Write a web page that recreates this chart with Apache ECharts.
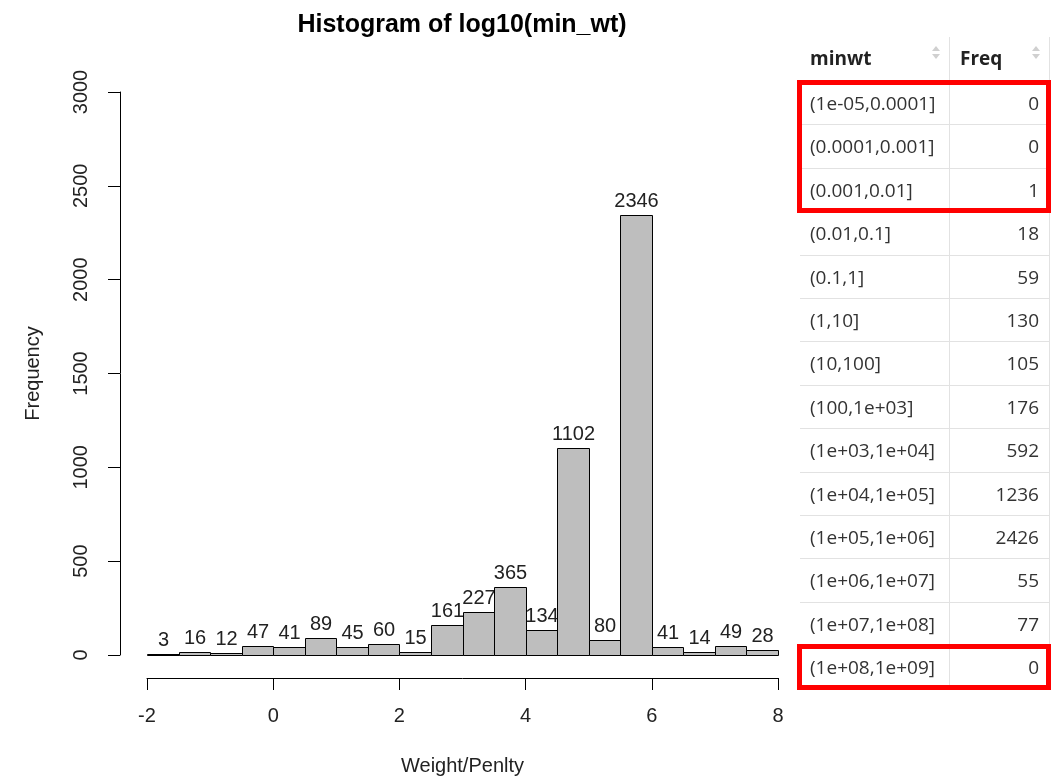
<!DOCTYPE html>
<html>
<head>
<meta charset="utf-8">
<title>Histogram of log10(min_wt)</title>
<script src="https://cdn.jsdelivr.net/npm/echarts@6/dist/echarts.min.js"></script>
<style>
  html, body {
    margin: 0;
    padding: 0;
    background: #fff;
  }
  #chart_hist {
    position: absolute;
    left: 0;
    top: 0;
    width: 1058px;
    height: 781px;
  }
  /* right side frequency table */
  #freq_table {
    position: absolute;
    left: 800px;
    top: 37px;
    width: 250px;
    font-family: "Open Sans", "Noto Sans", sans-serif;
    font-size: 19px;
    color: #333;
  }
  #freq_table .row {
    position: relative;
    height: 43.4px;
    border-bottom: 1px solid #e2e2e2;
    box-sizing: border-box;
  }
  #freq_table .head {
    height: 45px;
    border-bottom: 2px solid #e2e2e2;
    font-weight: 700;
    color: #222;
  }
  #freq_table .c1, #freq_table .c2 {
    position: absolute;
    top: 0;
    bottom: 0;
    line-height: 42px;
  }
  #freq_table .c1 {
    left: 0;
    width: 150px;
    padding-left: 10px;
    box-sizing: border-box;
    border-right: 1px solid #e2e2e2;
  }
  #freq_table .c2 {
    left: 150px;
    width: 100px;
    padding: 0 10px;
    box-sizing: border-box;
    text-align: right;
    border-right: 1px solid #e2e2e2;
  }
  #freq_table .head .c2 { text-align: left; }
  .sort {
    position: absolute;
    right: 9px;
    top: 9px;
    width: 8px;
    height: 14px;
  }
  .sort:before, .sort:after {
    content: "";
    position: absolute;
    left: 0;
    border-left: 4px solid transparent;
    border-right: 4px solid transparent;
  }
  .sort:before { top: 0; border-bottom: 5px solid #d0d0d0; }
  .sort:after { top: 8px; border-top: 5px solid #d0d0d0; }
  .redbox {
    position: absolute;
    left: -3px;
    width: 254px;
    border: 5px solid #f00;
    box-sizing: border-box;
  }
</style>
</head>
<body>
<div id="chart_hist"></div>
<div id="freq_table"></div>
<script>
// histogram bins of log10(min_wt), width 0.5
var binLo = [-2, -1.5, -1, -0.5, 0, 0.5, 1, 1.5, 2, 2.5, 3, 3.5, 4, 4.5, 5, 5.5, 6, 6.5, 7, 7.5];
var binHi = [-1.5, -1, -0.5, 0, 0.5, 1, 1.5, 2, 2.5, 3, 3.5, 4, 4.5, 5, 5.5, 6, 6.5, 7, 7.5, 8];
var counts = [3, 16, 12, 47, 41, 89, 45, 60, 15, 161, 227, 365, 134, 1102, 80, 2346, 41, 14, 49, 28];

var xTicks = [-2, 0, 2, 4, 6, 8];
var yTicks = [0, 500, 1000, 1500, 2000, 2500, 3000];

// table data
var tableHead = ['minwt', 'Freq'];
var minwt = ['(1e-05,0.0001]', '(0.0001,0.001]', '(0.001,0.01]', '(0.01,0.1]', '(0.1,1]', '(1,10]',
  '(10,100]', '(100,1e+03]', '(1e+03,1e+04]', '(1e+04,1e+05]', '(1e+05,1e+06]', '(1e+06,1e+07]',
  '(1e+07,1e+08]', '(1e+08,1e+09]'];
var freq = [0, 0, 1, 18, 59, 130, 105, 176, 592, 1236, 2426, 55, 77, 0];
// rows boxed in red: [first row, last row]
var boxedRows = [[0, 2], [13, 13]];

var axisFont = '"Liberation Sans", Arial, sans-serif';

var chart = echarts.init(document.getElementById('chart_hist'));

var barData = [];
for (var i = 0; i < counts.length; i++) {
  barData.push([binLo[i], binHi[i], counts[i]]);
}

var option = {
  animation: false,
  title: {
    text: 'Histogram of log10(min_wt)',
    left: 457,
    top: 8,
    textAlign: 'center',
    textStyle: {
      fontFamily: axisFont,
      fontSize: 25,
      fontWeight: 'bold',
      color: '#000'
    }
  },
  grid: {
    left: 147,
    top: 92,
    width: 631,
    height: 563
  },
  xAxis: {
    type: 'value',
    min: xTicks[0],
    max: xTicks[xTicks.length - 1],
    interval: 2,
    offset: 23,
    name: 'Weight/Penlty',
    nameLocation: 'middle',
    nameGap: 78,
    nameTextStyle: { fontFamily: axisFont, fontSize: 20, color: '#222' },
    axisLine: { show: true, onZero: false, lineStyle: { color: '#000', width: 1 } },
    axisTick: { show: true, length: 12, lineStyle: { color: '#000' } },
    axisLabel: { margin: 28, fontFamily: axisFont, fontSize: 20, color: '#222' },
    splitLine: { show: false }
  },
  yAxis: {
    type: 'value',
    min: yTicks[0],
    max: yTicks[yTicks.length - 1],
    interval: 500,
    offset: 27,
    name: 'Frequency',
    nameLocation: 'middle',
    nameRotate: 90,
    nameGap: 77,
    nameTextStyle: { fontFamily: axisFont, fontSize: 20, color: '#222' },
    axisLine: { show: true, onZero: false, lineStyle: { color: '#000', width: 1 } },
    axisTick: { show: true, length: 12, lineStyle: { color: '#000' } },
    axisLabel: {
      rotate: 90,
      margin: 29,
      fontFamily: axisFont,
      fontSize: 20,
      color: '#222',
      formatter: function (v) { return String(v); }
    },
    splitLine: { show: false }
  },
  series: [{
    type: 'custom',
    data: barData,
    renderItem: function (params, api) {
      var topLeft = api.coord([api.value(0), api.value(2)]);
      var botRight = api.coord([api.value(1), 0]);
      var x0 = Math.round(topLeft[0]) + 0.5;
      var x1 = Math.round(botRight[0]) + 0.5;
      var y0 = Math.round(topLeft[1]) + 0.5;
      var y1 = Math.round(botRight[1]) + 0.5;
      return {
        type: 'group',
        children: [{
          type: 'rect',
          shape: { x: x0, y: y0, width: x1 - x0, height: y1 - y0 },
          style: { fill: '#bebebe', stroke: '#000', lineWidth: 1 }
        }, {
          type: 'text',
          x: (x0 + x1) / 2,
          y: y0 - 4,
          style: {
            text: String(api.value(2)),
            align: 'center',
            verticalAlign: 'bottom',
            font: '20px ' + axisFont,
            fill: '#222'
          }
        }]
      };
    }
  }]
};
chart.setOption(option);

// build the table
var tbl = document.getElementById('freq_table');
var html = '<div class="row head"><div class="c1">' + tableHead[0] + '<span class="sort"></span></div>' +
  '<div class="c2">' + tableHead[1] + '<span class="sort"></span></div></div>';
for (var r = 0; r < minwt.length; r++) {
  html += '<div class="row"><div class="c1">' + minwt[r] + '</div><div class="c2">' + freq[r] + '</div></div>';
}
tbl.innerHTML = html;

var rows = tbl.querySelectorAll('.row');
boxedRows.forEach(function (b) {
  var first = rows[b[0] + 1];
  var last = rows[b[1] + 1];
  var box = document.createElement('div');
  box.className = 'redbox';
  box.style.top = (first.offsetTop - 2) + 'px';
  box.style.height = (last.offsetTop + last.offsetHeight - first.offsetTop + 3) + 'px';
  tbl.appendChild(box);
});
</script>
</body>
</html>
